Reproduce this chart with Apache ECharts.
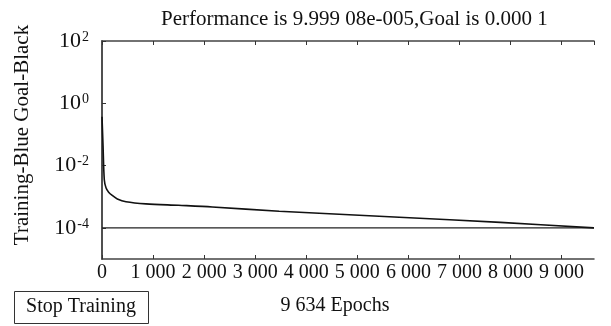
<!DOCTYPE html>
<html>
<head>
<meta charset="utf-8">
<script src="https://cdn.jsdelivr.net/npm/echarts@6/dist/echarts.min.js"></script>
<style>
  html, body { margin: 0; padding: 0; background: #fff; }
  #main { width: 611px; height: 326px; }
</style>
</head>
<body>
<div id="main"></div>
<script>
// training curve (epoch, performance)
var epochs = [0, 20, 45, 80, 130, 200, 300, 470, 860, 1500, 2160, 3470, 5820, 7800, 9634];
var perf = [0.37, 0.045, 3.5e-3, 1.9e-3, 1.4e-3, 1.1e-3, 8.5e-4, 6.9e-4, 5.9e-4, 5.3e-4, 4.7e-4, 3.4e-4, 2.2e-4, 1.5e-4, 9.99908e-5];
// goal line
var goalX = [0, 9634];
var goalY = [1e-4, 1e-4];
// y tick labels (powers of ten)
var yTicks = [1e-4, 1e-2, 1, 100];

var chart = echarts.init(document.getElementById('main'));
var serif = 'Liberation Serif';

var curve = [];
for (var i = 0; i < epochs.length; i++) {
  curve.push([epochs[i], perf[i]]);
}
var goal = [];
for (var j = 0; j < goalX.length; j++) {
  goal.push([goalX[j], goalY[j]]);
}

function thousands(v) {
  if (v < 1000) return String(v);
  var s = String(v);
  return s.slice(0, s.length - 3) + ' ' + s.slice(s.length - 3);
}

var option = {
  animation: false,
  backgroundColor: '#fff',
  title: {
    text: 'Performance is 9.999 08e-005,Goal is 0.000 1',
    left: 156,
    top: 4,
    textStyle: { fontFamily: serif, fontSize: 21, fontWeight: 'normal', color: '#111' }
  },
  grid: { left: 102, right: 17, top: 41, bottom: 67 },
  xAxis: [
    {
      type: 'value',
      min: 0,
      max: 9634,
      interval: 1000,
      name: '9 634 Epochs',
      nameLocation: 'middle',
      nameGap: 37,
      nameTextStyle: { fontFamily: serif, fontSize: 20, color: '#111', padding: [0, 26, 0, 0] },
      axisLine: { show: true, lineStyle: { color: '#444', width: 1.5 } },
      axisTick: { show: true, inside: true, length: 4, lineStyle: { color: '#333' } },
      axisLabel: {
        fontFamily: serif, fontSize: 20, color: '#111', margin: 4,
        showMaxLabel: false,
        formatter: function (v) { return thousands(v); }
      },
      splitLine: { show: false }
    },
    {
      type: 'value',
      position: 'top',
      min: 0,
      max: 9634,
      interval: 1000,
      axisLine: { show: true, lineStyle: { color: '#444', width: 1.5 } },
      axisTick: { show: true, inside: true, length: 4, lineStyle: { color: '#333' } },
      axisLabel: { show: false },
      splitLine: { show: false }
    }
  ],
  yAxis: [
    {
      type: 'log',
      logBase: 10,
      min: 1e-5,
      max: 100,
      name: 'Training-Blue Goal-Black',
      nameLocation: 'middle',
      nameGap: 69,
      nameTextStyle: { fontFamily: serif, fontSize: 21, color: '#111', padding: [0, 0, 0, 30] },
      axisLine: { show: true, lineStyle: { color: '#444', width: 1.5 } },
      axisTick: { show: true, inside: true, length: 4, customValues: yTicks, lineStyle: { color: '#333' } },
      axisLabel: {
        customValues: yTicks,
        margin: 13,
        fontFamily: serif,
        fontSize: 22,
        color: '#111',
        formatter: function (v) {
          var e = Math.round(Math.log(v) / Math.LN10);
          return '10{s|' + e + '}';
        },
        rich: {
          s: { fontFamily: serif, fontSize: 14, color: '#111', verticalAlign: 'top', padding: [0, 0, 8, 1] }
        }
      },
      splitLine: { show: false }
    },
    {
      type: 'log',
      logBase: 10,
      min: 1e-5,
      max: 100,
      position: 'right',
      axisLine: { show: true, lineStyle: { color: '#444', width: 1.5 } },
      axisTick: { show: false },
      axisLabel: { show: false },
      splitLine: { show: false }
    }
  ],
  graphic: [
    {
      type: 'rect',
      shape: { x: 14.5, y: 291.5, width: 134, height: 32 },
      style: { fill: '#fff', stroke: '#333', lineWidth: 1 }
    },
    {
      type: 'text',
      x: 81,
      y: 307,
      style: {
        text: 'Stop Training',
        fontFamily: serif, fontSize: 20, fill: '#111',
        textAlign: 'center', textVerticalAlign: 'middle'
      }
    }
  ],
  series: [
    {
      name: 'Goal',
      type: 'line',
      data: goal,
      symbol: 'none',
      lineStyle: { color: '#222', width: 1.2 }
    },
    {
      name: 'Training',
      type: 'line',
      data: curve,
      symbol: 'none',
      smooth: 0.3,
      lineStyle: { color: '#111', width: 1.6 }
    }
  ]
};

chart.setOption(option);
</script>
</body>
</html>
